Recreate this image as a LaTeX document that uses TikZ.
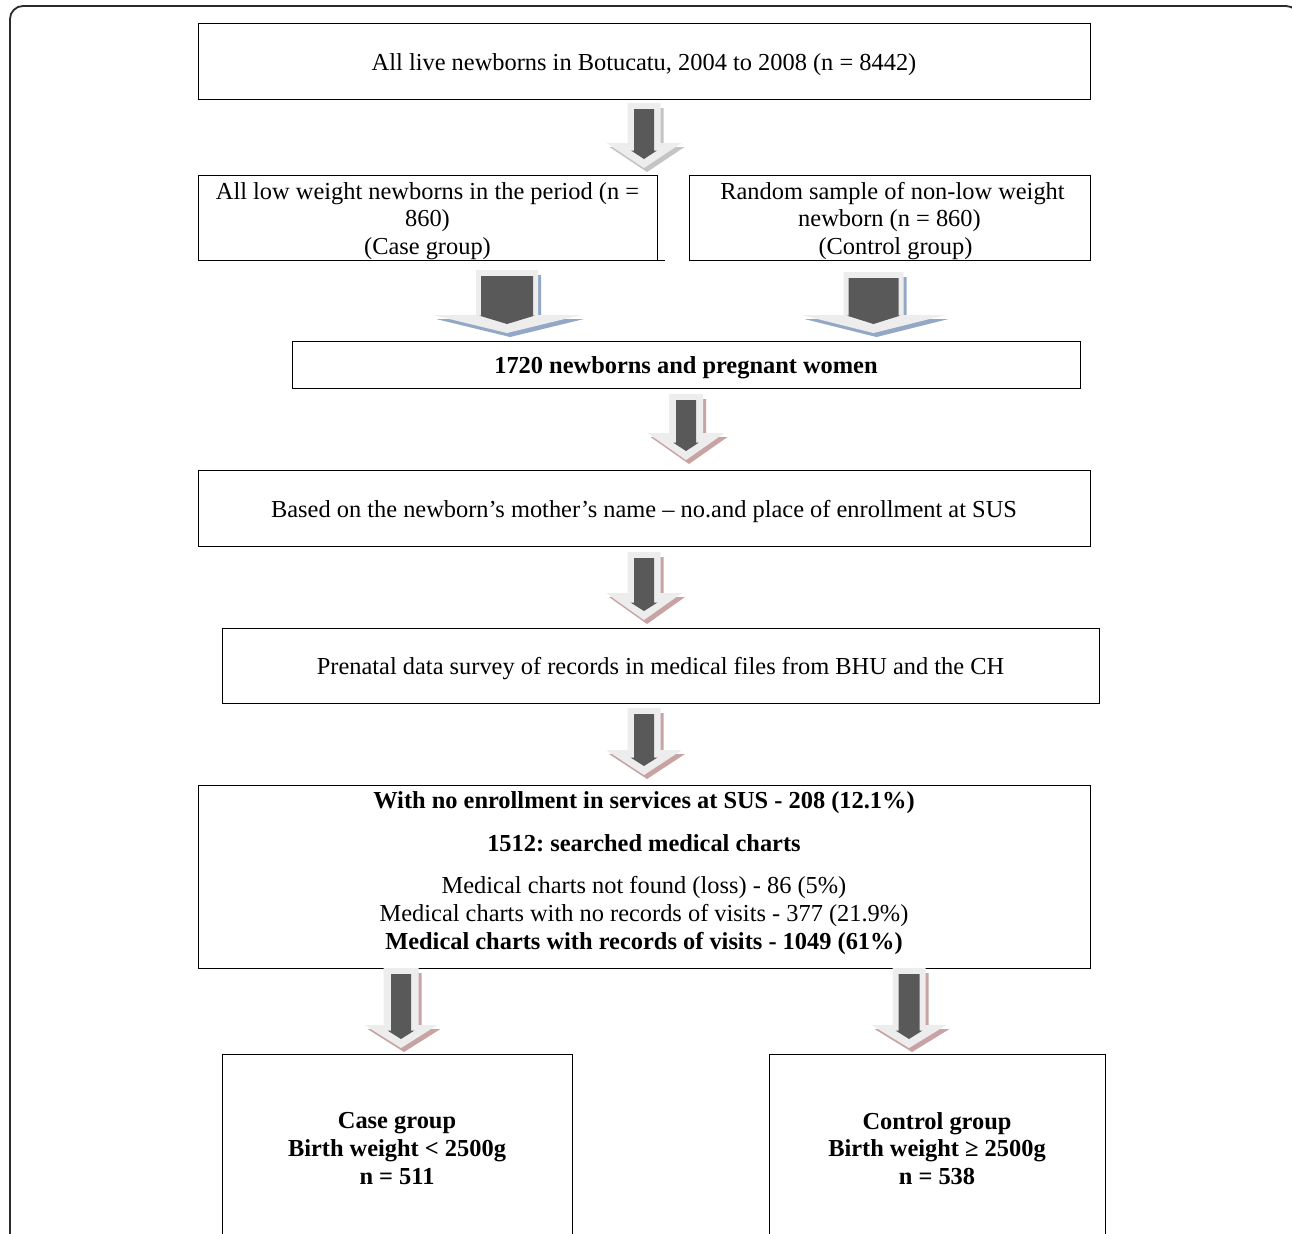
\documentclass[tikz,border=0pt]{standalone}
\usepackage{fontspec}
\setmainfont{Liberation Serif}
\definecolor{arrlight}{HTML}{EDEDED}
\definecolor{arrdark}{HTML}{595959}
\definecolor{shgray}{HTML}{C4C4C4}
\definecolor{shblue}{HTML}{93A8C6}
\definecolor{shpink}{HTML}{C9A3A3}
\definecolor{framecol}{HTML}{2B2B2B}
\newcommand{\fsn}{\fontsize{24.5}{27.8}\selectfont}
\newcommand{\fsb}{\fontsize{24.5}{27.8}\selectfont\bfseries}
\newcommand{\lowt}[1]{\raisebox{-3.5bp}[\height][\depth]{#1}}
\newcommand{\lowml}[1]{\raisebox{-3.7bp}[\height][\depth]{\begin{tabular}{@{}c@{}}#1\end{tabular}}}
% #1 cx, #2 top, #3 wing y, #4 tip y, #5 shaft half, #6 wing half, #7 inner shaft half, #8 inner wing half, #9 shadow colour
\newcommand{\blockarrow}[9]{%
  \fill[#9] ({#1-#5+3},{#2+5}) -- ({#1+#5+3},{#2+5}) -- ({#1+#5+3},{#3+4}) -- ({#1+#6+3},{#3+4}) -- ({#1+3},{#4+4}) -- ({#1-#6+3},{#3+4}) -- ({#1-#5+3},{#3+4}) -- cycle;
  \fill[arrlight] ({#1-#5},#2) -- ({#1+#5},#2) -- ({#1+#5},#3) -- ({#1+#6},#3) -- (#1,#4) -- ({#1-#6},#3) -- ({#1-#5},#3) -- cycle;
  \fill[arrdark] ({#1-#7},{#2+6}) -- ({#1+#7},{#2+6}) -- ({#1+#7},{#4-17.5}) -- ({#1+#8},{#4-17.5}) -- (#1,{#4-9}) -- ({#1-#8},{#4-17.5}) -- ({#1-#7},{#4-17.5}) -- cycle;
}
\frenchspacing
\begin{document}
\begin{tikzpicture}[x=1bp,y=-1bp,
  box/.style={draw=black, line width=0.9bp, inner sep=0pt, align=center, font=\fsn},
  txt/.style={inner sep=0pt, align=center, font=\fsn}]
\useasboundingbox (0,0) rectangle (1292,1234);
\fill[white] (0,0) rectangle (1292,1234);
% frame
\draw[framecol, line width=1.8bp, rounded corners=13bp] (10,1260) -- (10,6) -- (1299,6) -- (1299,1260);

% boxes
\node[box, minimum width=892bp, minimum height=76bp] (a) at (644,61) {\lowt{All live newborns in Botucatu, 2004 to 2008 (n = 8442)}};
\node[box, minimum width=459bp, minimum height=85bp] (b) at (427.5,217.5) {\lowml{All low weight newborns in the period (n =\\ 860)\\(Case group)}};
\draw[line width=0.9bp] (b.south east) -- ++(8,0);
\node[box, minimum width=401bp, minimum height=85bp] (c) at (889.5,217.5) {\lowml{\hspace*{6bp}Random sample of non-low weight\\ newborn (n = 860)\\\hspace*{12bp}(Control group)}};
\node[box, minimum width=788bp, minimum height=47bp, font=\fsb] (d) at (686,364.5) {\lowt{1720 newborns and pregnant women}};
\node[box, minimum width=892bp, minimum height=76bp] (e) at (644,508) {\lowt{Based on the newborn’s mother’s name – no.and place of enrollment at SUS}};
\node[box, minimum width=877bp, minimum height=75bp] (f) at (660.5,665.5) {\lowt{Prenatal data survey of records in medical files from BHU and the CH}};
\node[box, minimum width=892bp, minimum height=183bp] (g) at (644,876.5) {};
\node[txt] (gt) at (644,873.5) {{\bfseries With no enrollment in services at SUS - 208 (12.1\%)}\\[15bp]
  {\bfseries 1512: searched medical charts}\\[14bp]
  Medical charts not found (loss) - 86 (5\%)\\[0.7bp]
  Medical charts with no records of visits - 377 (21.9\%)\\[0.7bp]
  {\bfseries Medical charts with records of visits - 1049 (61\%)}};
\node[box, minimum width=350bp, minimum height=260bp, anchor=north] (h) at (397,1054) {};
\node[txt, font=\fsb] (ht) at (397,1148.5) {Case group\\Birth weight < 2500g\\n = 511};
\node[box, minimum width=336bp, minimum height=260bp, anchor=north] (i) at (937,1054) {};
\node[txt, font=\fsb] (it) at (937,1148.5) {Control group\\Birth weight ≥ 2500g\\n = 538};

% block arrows
\blockarrow{644}{103}{143}{168}{16.5}{37.5}{10}{13}{shgray}
\blockarrow{507}{270}{315}{333}{31}{74}{26}{28}{shblue}
\blockarrow{873.5}{272}{315}{333}{30}{72}{25}{27}{shblue}
\blockarrow{686}{394}{433}{460}{17}{38.5}{10}{13}{shpink}
\blockarrow{644}{552}{593}{620}{16.5}{38}{10}{13.5}{shpink}
\blockarrow{644}{708}{750}{775}{16.5}{38}{10}{13.5}{shpink}
\blockarrow{401}{968}{1025}{1048}{17.5}{36.5}{10}{13.5}{shpink}
\blockarrow{909}{968}{1025}{1048}{16.5}{37.5}{10.5}{13.5}{shpink}
\end{tikzpicture}
\end{document}
